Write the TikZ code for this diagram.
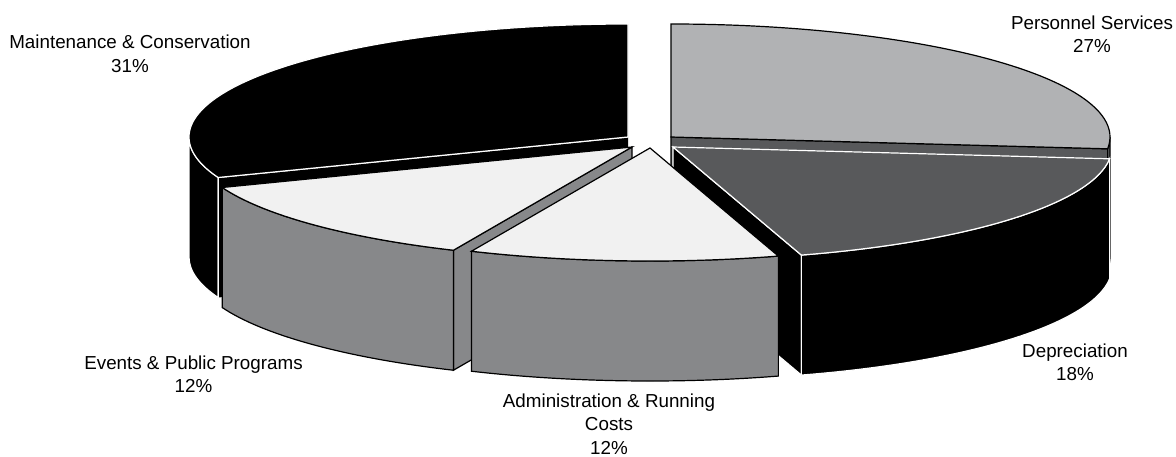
\documentclass[tikz,border=0pt]{standalone}
\usepackage{fontspec}
\setmainfont{Liberation Sans}
\usetikzlibrary{calc}
\definecolor{pslice}{HTML}{B1B2B4}
\definecolor{dslice}{HTML}{58595B}
\definecolor{gside}{HTML}{87888A}
\definecolor{ltop}{HTML}{F1F1F1}
\tikzset{
  blk/.style={draw=black, line width=1.2pt, line join=miter},
  wht/.style={draw=white, line width=1.2pt, line join=miter},
  lbl/.style={font=\fontsize{18.8}{23.5}\selectfont, align=center, inner sep=0pt, anchor=north},
  el/.style={x radius=439pt, y radius=113pt}
}
\begin{document}
\begin{tikzpicture}[x=1pt,y=1pt]
\useasboundingbox (0,0) rectangle (1176,-456);
% apexes
\coordinate (aM) at (628,-137);
\coordinate (aP) at (671,-137);
\coordinate (aD) at (673,-147);
\coordinate (aA) at (650,-148);
\coordinate (aE) at (632,-147);
% ---- Maintenance & Conservation (90..201)
\fill[black] (aM) -- ++(201:439pt and 113pt) -- ++(0,-120) -- ([yshift=-120pt]aM) -- cycle;
\draw[wht, fill=black] (aM) ++(180:439pt and 113pt) arc[el, start angle=180, end angle=201] -- ++(0,-120) arc[el, start angle=201, end angle=180] -- cycle;
\draw[wht] (aM) -- ++(201:439pt and 113pt) -- ++(0,-120);
\draw[wht, fill=black] (aM) -- ++(90:439pt and 113pt) arc[el, start angle=90, end angle=201] -- cycle;
% ---- Personnel Services (-6..90)
\draw[blk, fill=dslice] (aP) -- ++(-6:439pt and 113pt) -- ++(0,-120) -- ([yshift=-120pt]aP) -- cycle;
\draw[blk, fill=dslice] (aP) ++(-6:439pt and 113pt) arc[el, start angle=-6, end angle=0] -- ++(0,-120) arc[el, start angle=0, end angle=-6] -- cycle;
\draw[blk, fill=pslice] (aP) -- ++(-6:439pt and 113pt) arc[el, start angle=-6, end angle=90] -- cycle;
% ---- Events & Public Programs (-159..-114)
\draw[blk, fill=gside] (aE) -- ++(-114:439pt and 113pt) -- ++(0,-120) -- ([yshift=-120pt]aE) -- cycle;
\draw[blk, fill=gside] (aE) ++(-159:439pt and 113pt) arc[el, start angle=-159, end angle=-114] -- ++(0,-120) arc[el, start angle=-114, end angle=-159] -- cycle;
\draw[blk, fill=ltop] (aE) -- ++(-159:439pt and 113pt) arc[el, start angle=-159, end angle=-114] -- cycle;
% ---- Depreciation (-73..-6)
\draw[wht, fill=black] (aD) -- ++(-73:439pt and 113pt) -- ++(0,-120) -- ([yshift=-120pt]aD) -- cycle;
\draw[wht, fill=black] (aD) ++(-73:439pt and 113pt) arc[el, start angle=-73, end angle=-6] -- ++(0,-120) arc[el, start angle=-6, end angle=-73] -- cycle;
\draw[wht, fill=dslice] (aD) -- ++(-73:439pt and 113pt) arc[el, start angle=-73, end angle=-6] -- cycle;
% ---- Administration & Running Costs (-114..-73)
\draw[blk, fill=gside] (aA) ++(-114:439pt and 113pt) arc[el, start angle=-114, end angle=-73] -- ++(0,-120) arc[el, start angle=-73, end angle=-114] -- cycle;
\draw[blk, fill=ltop] (aA) -- ++(-114:439pt and 113pt) arc[el, start angle=-114, end angle=-73] -- cycle;
% ---- labels
\node[lbl] (lM) at (130,-34.8) {Maintenance \& Conservation\\31\%};
\node[lbl] (lP) at (1092,-15.4) {Personnel Services\\27\%};
\node[lbl] (lD) at (1075,-343.2) {Depreciation\\18\%};
\node[lbl] (lE) at (193.5,-355.6) {Events \& Public Programs\\12\%};
\node[lbl] (lA) at (609,-393.2) {Administration \& Running\\Costs\\12\%};
\end{tikzpicture}
\end{document}
